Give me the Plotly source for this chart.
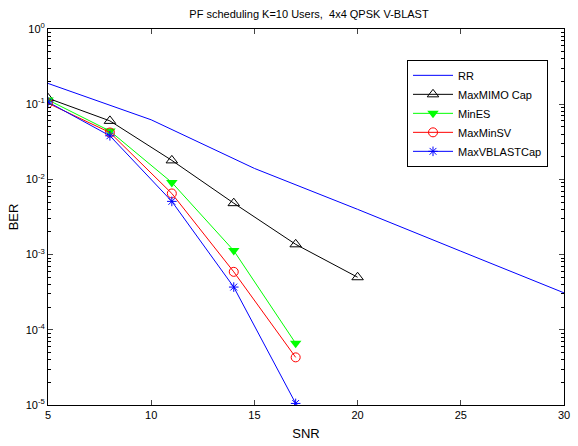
import plotly.graph_objects as go

snr_rr = [5, 10, 15, 20, 25, 30]
ber_rr = [0.189, 0.062, 0.0140, 0.0040, 0.00111, 0.00031]

snr_mimo = [5, 8, 11, 14, 17, 20]
ber_mimo = [0.120, 0.060, 0.0179, 0.00483, 0.00137, 0.00050]

snr_es = [5, 8, 11, 14, 17]
ber_es = [0.114, 0.044, 0.0091, 0.00113, 6.6e-5]

snr_sv = [5, 8, 11, 14, 17]
ber_sv = [0.103, 0.042, 0.0065, 0.00059, 4.3e-5]

snr_vb = [5, 8, 11, 14, 17]
ber_vb = [0.107, 0.038, 0.0051, 0.00037, 1.05e-5]

x_ticks = [5, 10, 15, 20, 25, 30]
y_exps = [-5, -4, -3, -2, -1, 0]

font = "Liberation Sans, Arial, sans-serif"

fig = go.Figure()
fig.add_trace(go.Scatter(x=snr_rr, y=ber_rr, mode="lines", name="RR",
                         line=dict(color="#0000FF", width=1)))
fig.add_trace(go.Scatter(x=snr_mimo, y=ber_mimo, mode="lines+markers", name="MaxMIMO Cap",
                         line=dict(color="#000000", width=1),
                         marker=dict(symbol="triangle-up-open", size=10, color="#000000",
                                     line=dict(width=1, color="#000000"))))
fig.add_trace(go.Scatter(x=snr_es, y=ber_es, mode="lines+markers", name="MinES",
                         line=dict(color="#00FF00", width=1),
                         marker=dict(symbol="triangle-down", size=10, color="#00FF00",
                                     line=dict(width=0))))
fig.add_trace(go.Scatter(x=snr_sv, y=ber_sv, mode="lines+markers", name="MaxMinSV",
                         line=dict(color="#FF0000", width=1),
                         marker=dict(symbol="circle-open", size=9, color="#FF0000",
                                     line=dict(width=1, color="#FF0000"))))
fig.add_trace(go.Scatter(x=snr_vb, y=ber_vb, mode="lines+markers", name="MaxVBLASTCap",
                         line=dict(color="#0000FF", width=1),
                         marker=dict(symbol="asterisk-open", size=8, color="#0000FF",
                                     line=dict(width=1, color="#0000FF"))))

minor_vals = [m * 10 ** e for e in range(-5, 0) for m in range(2, 10)]

fig.update_layout(
    width=578, height=446,
    margin=dict(l=48, r=8, t=29, b=38),
    paper_bgcolor="white", plot_bgcolor="white",
    font=dict(family=font, size=11, color="black"),
    title=dict(text="PF scheduling K=10 Users,\u00a0 4x4 QPSK V-BLAST",
               x=(48 + 570) / 2 / 578, xanchor="center", y=1 - 14 / 446, yanchor="middle",
               font=dict(size=11)),
    showlegend=True,
    legend=dict(x=0.969, y=0.918, xanchor="right", yanchor="top",
                bgcolor="white", bordercolor="black", borderwidth=1,
                font=dict(size=11), tracegroupgap=0, itemwidth=40),
)
fig.update_xaxes(range=[5, 30], tickvals=x_ticks, ticks="inside", ticklen=5,
                 showline=True, linecolor="black", linewidth=1, mirror="ticks",
                 showgrid=False, zeroline=False,
                 title=dict(text="SNR", standoff=8), tickfont=dict(size=11))
fig.update_yaxes(type="log", range=[-5, 0],
                 tickvals=[10 ** e for e in y_exps],
                 ticktext=["10<sup>%d</sup>" % e for e in y_exps],
                 ticks="inside", ticklen=5,
                 minor=dict(tickvals=minor_vals, ticks="inside", ticklen=3, tickcolor="black"),
                 showline=True, linecolor="black", linewidth=1, mirror="ticks",
                 showgrid=False, zeroline=False,
                 title=dict(text="BER", standoff=4), tickfont=dict(size=11))

fig.write_html("out.html")
